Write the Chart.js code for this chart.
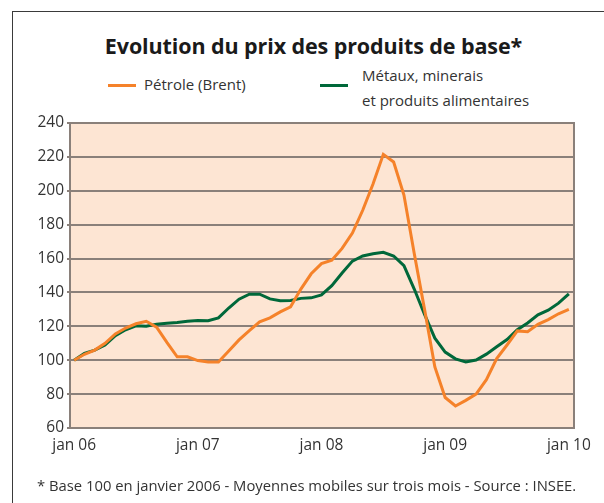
<!DOCTYPE html>
<html lang="fr">
<head>
<meta charset="utf-8">
<title>Evolution du prix des produits de base</title>
<script src="https://cdn.jsdelivr.net/npm/chart.js@4"></script>
<style>
    html, body { margin: 0; padding: 0; background: #fff; overflow: hidden; }
    body { width: 604px; height: 503px; position: relative; font-family: 'Open Sans', sans-serif; color: #333; }
    #frame { position: absolute; left: 12px; top: 11px; width: 640px; height: 540px; border: 1.5px solid #3a3a3a; box-sizing: border-box; }
    #title { position: absolute; left: 0; width: 627px; top: 31px; text-align: center; font-weight: bold; font-size: 21.5px; color: #1a1a1a; letter-spacing: -0.1px; }
    .leg-line { position: absolute; height: 3px; }
    .leg-text { position: absolute; font-size: 15px; line-height: 25px; color: #333; }
    #note { position: absolute; left: 37px; top: 475px; font-size: 14.8px; color: #333; white-space: nowrap; }
    #chart { position: absolute; left: 0; top: 0; }
</style>
</head>
<body>
<div id="frame"></div>
<div id="title">Evolution du prix des produits de base*</div>
<div class="leg-line" style="left:108px;top:84px;width:28px;background:#f5822a"></div>
<div class="leg-text" style="left:144px;top:72px">Pétrole (Brent)</div>
<div class="leg-line" style="left:320px;top:84px;width:28px;background:#00683a"></div>
<div class="leg-text" style="left:362px;top:63px">Métaux, minerais<br>et produits alimentaires</div>
<canvas id="chart" width="604" height="503"></canvas>
<div id="note">* Base 100 en janvier 2006 - Moyennes mobiles sur trois mois - Source : INSEE.</div>
<script>
// monthly values, jan 06 -> jan 10
const petrole = [
    100, 103.5, 106, 110, 115.5, 119, 121.5, 123, 119.5, 110.5, 102, 102,
    99.8, 99, 99, 105.5, 112, 117.5, 122.7, 125, 128.5, 131.5, 142, 151,
    157, 159, 166, 175, 188.5, 204, 221.5, 217, 197.5, 163, 130, 96,
    78, 73, 76.3, 80, 88.5, 101, 109, 117.3, 116.8, 121.2, 124, 127.4,
    130
];
const metaux = [
    100, 104, 106, 109, 114.5, 118, 120.3, 120, 121.3, 121.8, 122.3, 123,
    123.4, 123.3, 125, 130.8, 136, 139, 139, 136.2, 135.1, 135.2, 136.5, 136.8,
    138.5, 144, 151.5, 158.5, 161.5, 162.8, 163.7, 161.5, 155.8, 142, 127, 113,
    104.8, 100.8, 99, 100.1, 103.6, 108, 112.2, 118, 122, 126.8, 129.5, 133.7,
    139.2
];
const tickLabels = ['jan 06', 'jan 07', 'jan 08', 'jan 09', 'jan 10'];
const tickMonths = [0, 12, 24, 36, 48];

const toPoints = (values) => values.map((v, i) => ({ x: i, y: v }));

// fill the plot area and draw its frame
const plotBackground = {
    id: 'plotBackground',
    beforeDraw(chart) {
        const { ctx, chartArea: a } = chart;
        ctx.save();
        ctx.fillStyle = '#fde5d3';
        ctx.fillRect(a.left, a.top, a.right - a.left, a.bottom - a.top);
        ctx.restore();
    },
    afterDatasetsDraw(chart) {
        const { ctx, chartArea: a } = chart;
        ctx.save();
        ctx.strokeStyle = '#8a807a';
        ctx.lineWidth = 2;
        ctx.strokeRect(a.left, a.top, a.right - a.left, a.bottom - a.top);
        ctx.restore();
    }
};

new Chart(document.getElementById('chart'), {
    type: 'line',
    data: {
        datasets: [
            {
                label: 'Pétrole (Brent)',
                data: toPoints(petrole),
                borderColor: '#f5822a',
                borderWidth: 3,
                pointRadius: 0,
                tension: 0
            },
            {
                label: 'Métaux, minerais et produits alimentaires',
                data: toPoints(metaux),
                borderColor: '#00683a',
                borderWidth: 3,
                pointRadius: 0,
                tension: 0
            }
        ]
    },
    options: {
        responsive: false,
        animation: false,
        layout: { padding: { left: 20, top: 123, right: 30, bottom: 35 } },
        plugins: {
            legend: { display: false },
            title: { display: false },
            tooltip: { enabled: false }
        },
        scales: {
            x: {
                type: 'linear',
                min: -0.4,
                max: 48.5,
                afterBuildTicks: (axis) => {
                    axis.ticks = tickMonths.map(v => ({ value: v }));
                },
                afterFit: (axis) => { axis.height = 40; },
                grid: { display: false, drawTicks: false },
                border: { display: false },
                ticks: {
                    autoSkip: false,
                    maxRotation: 0,
                    padding: 8,
                    color: '#333',
                    font: { family: 'Open Sans', size: 15.5 },
                    callback: (value) => tickLabels[tickMonths.indexOf(value)]
                }
            },
            y: {
                min: 60,
                max: 240,
                afterFit: (axis) => { axis.width = 50; },
                grid: { color: '#8a807a', lineWidth: 2, tickLength: 3 },
                border: { display: false },
                ticks: {
                    stepSize: 20,
                    padding: 3,
                    color: '#333',
                    font: { family: 'Open Sans', size: 15.5 }
                }
            }
        }
    },
    plugins: [plotBackground]
});
</script>
</body>
</html>
